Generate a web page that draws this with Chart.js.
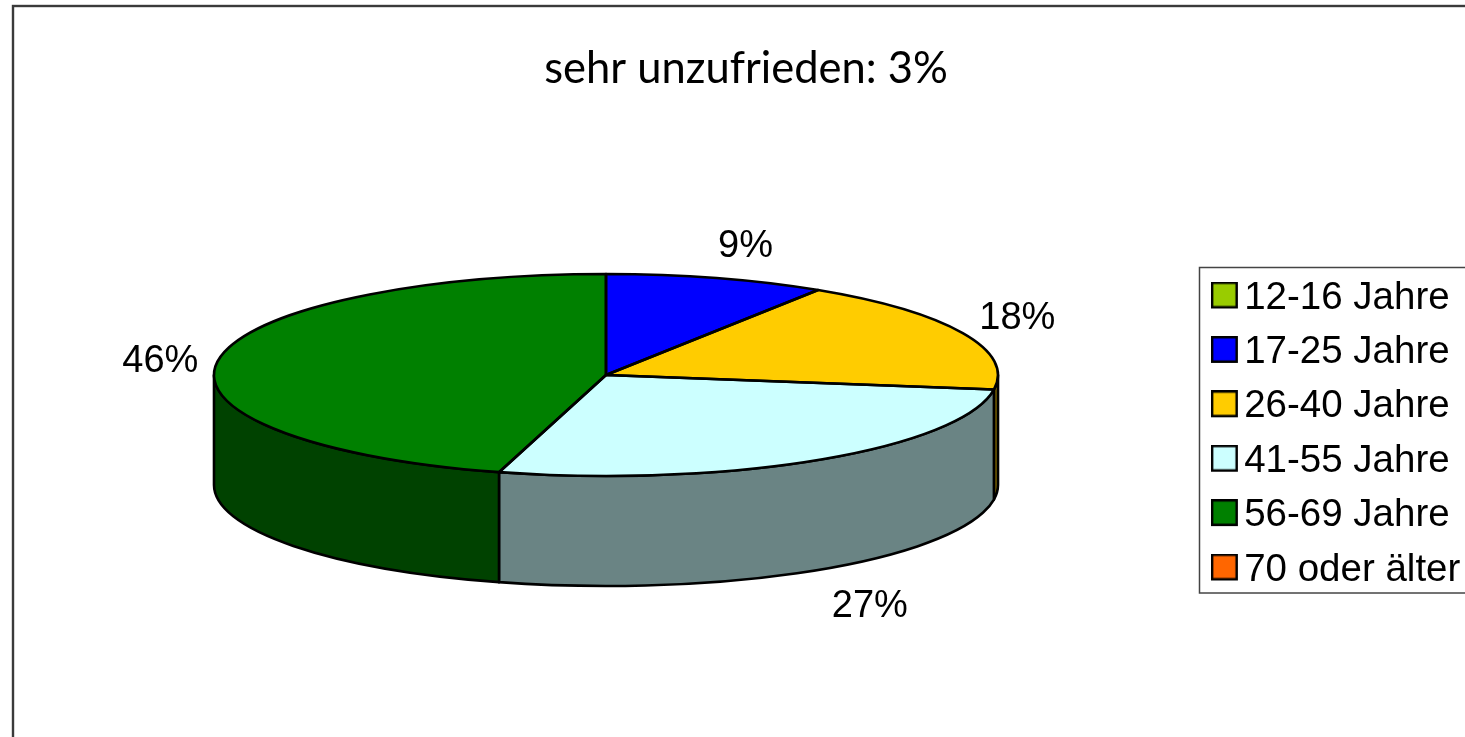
<!DOCTYPE html>
<html lang="de">
<head>
<meta charset="utf-8">
<title>sehr unzufrieden: 3%</title>
<style>
html,body{margin:0;padding:0;background:#fff;overflow:hidden}
canvas{display:block}
</style>
<script src="https://cdn.jsdelivr.net/npm/chart.js@4"></script>
</head>
<body>
<canvas id="c" width="1465" height="737"></canvas>
<script>
const titleText = 'sehr unzufrieden: 3%';
const categories = ['12-16 Jahre','17-25 Jahre','26-40 Jahre','41-55 Jahre','56-69 Jahre','70 oder älter'];
const shares = [0, 9.1, 18.2, 27.1, 45.6, 0];
const colors = ['#99CC00','#0000FF','#FFCC00','#CCFFFF','#008000','#FF6600'];

const look = {
  cx: 606, cy: 375, rx: 392, ry: 101, depth: 110, shade: 0.52, line: 2.6,
  labelGapX: 60, labelGapY: 35,
  labelNudge: [[0,0],[12,2],[0,0],[18,7],[2,5],[0,0]],
  frame: {x: 13, y: 6, color: '#3a3a3a', width: 2.4},
  legendFrame: {x: 1199.5, y: 267.5, bottom: 593, color: '#444', width: 1.5},
  legendAt: {left: 1208, top: 262.85},
  legendBox: {size: 24.5, line: 2.4, raise: 3},
  titleCenter: 746
};

function darken(hex, f){
  const n = parseInt(hex.slice(1), 16);
  return `rgb(${((n>>16)&255)*f|0},${((n>>8)&255)*f|0},${(n&255)*f|0})`;
}

function boxImage(fill){
  const {size, line, raise} = look.legendBox;
  const cv = document.createElement('canvas');
  cv.width = Math.ceil(size + line);
  cv.height = cv.width + 2 * raise;
  const g = cv.getContext('2d');
  g.fillStyle = fill; g.strokeStyle = '#000'; g.lineWidth = line;
  g.beginPath();
  g.rect(line / 2, line / 2, size, size);
  g.fill(); g.stroke();
  return cv;
}

const pie3d = {
  id: 'pie3d',
  afterLayout(chart){
    const lg = chart.legend, tb = chart.titleBlock;
    const h = lg.height;
    lg.left = look.legendAt.left; lg.top = look.legendAt.top;
    lg.right = lg.left + lg.width; lg.bottom = lg.top + h;
    const half = (tb.right - tb.left) / 2;
    tb.left = look.titleCenter - half; tb.right = look.titleCenter + half;
  },
  beforeDraw(chart){
    const c = chart.ctx, f = look.frame;
    c.save();
    c.strokeStyle = f.color; c.lineWidth = f.width;
    c.strokeRect(f.x, f.y, chart.width + 50, chart.height + 50);
    const l = look.legendFrame;
    c.strokeStyle = l.color; c.lineWidth = l.width;
    c.strokeRect(l.x, l.y, chart.width, l.bottom - l.y);
    c.restore();
  },
  beforeDatasetsDraw(chart){
    const c = chart.ctx, arcs = chart.getDatasetMeta(0).data;
    const {cx, cy, rx, ry, depth, shade, line} = look;
    c.save();
    c.lineWidth = line; c.strokeStyle = '#000'; c.lineJoin = 'round';
    arcs.forEach(el => {
      const a = Math.max(el.startAngle, 0), b = Math.min(el.endAngle, Math.PI);
      if (b <= a) return;
      c.beginPath();
      c.ellipse(cx, cy, rx, ry, 0, a, b);
      c.ellipse(cx, cy + depth, rx, ry, 0, b, a, true);
      c.closePath();
      c.fillStyle = darken(el.options.backgroundColor, shade);
      c.fill(); c.stroke();
    });
    c.restore();
    const el = arcs[0];
    c.save();
    c.translate(cx, cy);
    c.scale(rx / el.outerRadius, ry / el.outerRadius);
    c.translate(-el.x, -el.y);
  },
  afterDatasetsDraw(chart){
    const c = chart.ctx, arcs = chart.getDatasetMeta(0).data;
    const {cx, cy, rx, ry, depth, line, labelGapX, labelGapY, labelNudge} = look;
    c.restore();
    c.save();
    c.lineWidth = line; c.strokeStyle = '#000'; c.lineJoin = 'round';
    arcs.forEach(el => {
      if (el.endAngle - el.startAngle <= 0) return;
      c.beginPath();
      c.moveTo(cx, cy);
      c.ellipse(cx, cy, rx, ry, 0, el.startAngle, el.endAngle);
      c.closePath();
      c.stroke();
    });
    c.fillStyle = '#000';
    c.font = '38px "Liberation Sans"';
    c.textAlign = 'center'; c.textBaseline = 'middle';
    arcs.forEach((el, i) => {
      if (!shares[i]) return;
      const m = (el.startAngle + el.endAngle) / 2;
      const s = Math.sin(m);
      const x = cx + (rx + labelGapX) * Math.cos(m) + labelNudge[i][0];
      const y = cy + (ry + labelGapY) * s + (s > 0 ? depth : 0) + labelNudge[i][1];
      c.fillText(Math.round(shares[i]) + '%', x, y);
    });
    c.restore();
  }
};

new Chart(document.getElementById('c'), {
  type: 'pie',
  plugins: [pie3d],
  data: {
    labels: categories,
    datasets: [{
      data: shares,
      backgroundColor: colors,
      borderWidth: 0,
      radius: look.rx,
      clip: false
    }]
  },
  options: {
    responsive: false,
    animation: false,
    events: [],
    plugins: {
      tooltip: {enabled: false},
      title: {
        display: true,
        text: titleText,
        color: '#000',
        font: {family: 'Lato', size: 43.5, weight: 'normal'},
        padding: {top: 43, bottom: 10}
      },
      legend: {
        position: 'right',
        align: 'start',
        labels: {
          color: '#000',
          font: {family: '"Liberation Sans"', size: 38.5},
          boxWidth: 1, boxHeight: 24.5,
          usePointStyle: true,
          padding: 15.9,
          generateLabels(chart){
            return Chart.overrides.pie.plugins.legend.labels.generateLabels(chart).map(it => ({
              ...it, pointStyle: boxImage(it.fillStyle)
            }));
          }
        }
      }
    }
  }
});
</script>
</body>
</html>
